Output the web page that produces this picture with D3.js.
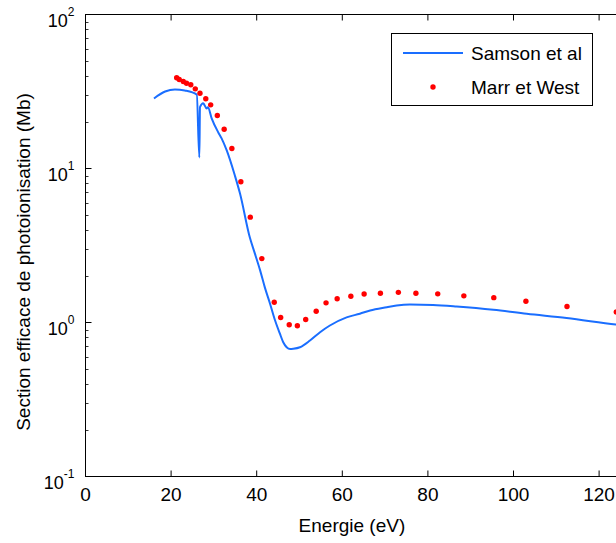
<!DOCTYPE html>
<html><head><meta charset="utf-8">
<script src="https://cdn.jsdelivr.net/npm/d3@7"></script>
<style>body{margin:0;background:#fff;overflow:hidden}svg{display:block;font-family:"Liberation Sans",Arial,sans-serif}</style>
</head><body>
<script>
const samsonE = [16.0,18.6,20.9,23.2,26.0,26.6,26.75,27.5,28.3,28.6,29.5,31.0,31.8,33.0,34.9,36.1,38.4,39.6,40.8,41.9,43.1,44.3,45.4,46.2,47.0,47.8,48.55,50.1,52.45,54.8,57.1,61.0,64.1,66.5,70.4,72.7,75.8,81.2,86.7,95.3,103.1,112.4,123.9,132];
const samsonV = [28.5,31.6,32.6,32.1,30.2,11.8,25.0,26.5,24.5,25.0,21.1,17.2,15.7,13.1,9.0,6.88,3.56,2.79,2.18,1.69,1.33,1.03,0.849,0.745,0.691,0.672,0.675,0.691,0.764,0.865,0.956,1.08,1.14,1.197,1.257,1.29,1.31,1.30,1.27,1.21,1.14,1.07,0.97,0.92];
const marrE = [21.3,21.9,22.85,23.6,24.6,25.65,26.75,28.1,29.25,30.8,32.4,34.2,36.3,38.5,41.2,44.1,45.6,47.6,49.5,51.45,53.9,56.2,58.8,62.0,65.1,68.9,73.1,77.2,82.3,88.4,95.4,102.9,112.5,124.0];
const marrV = [38.8,37.8,36.7,35.8,35.0,32.9,30.8,28.4,25.9,22.1,18.0,13.5,8.20,4.83,2.60,1.354,1.078,0.966,0.952,1.046,1.184,1.342,1.425,1.48,1.53,1.55,1.57,1.55,1.535,1.49,1.45,1.375,1.27,1.17];
const xTicks = [0,20,40,60,80,100,120];
const yDecades = [-1,0,1,2];
const legendLabels = ["Samson et al","Marr et West"];

const W=616,H=543;
const L=85.5, T=14.5, B=476.5, pxPerEV=4.28, xMax=124.5;
const R=L+pxPerEV*xMax;
const svg=d3.select("body").append("svg").attr("width",W).attr("height",H);
const x=d3.scaleLinear().domain([0,xMax]).range([L,R]);
const y=d3.scaleLog().domain([0.1,100]).range([B,T]);
const blue="#1a6eff", red="#ff0000";

const g=svg.append("g");
const minor=[];
for(let d=-1; d<2; d++) for(let k=2;k<=9;k++) minor.push(k*Math.pow(10,d));
g.selectAll(".ymin").data(minor).enter().append("line")
 .attr("x1",L).attr("x2",L+3).attr("y1",d=>Math.round(y(d))+0.5).attr("y2",d=>Math.round(y(d))+0.5)
 .attr("stroke","#000").attr("stroke-width",0.8);
g.selectAll(".ymaj").data(yDecades).enter().append("line")
 .attr("x1",L).attr("x2",L+6).attr("y1",d=>y(Math.pow(10,d))).attr("y2",d=>y(Math.pow(10,d)))
 .attr("stroke","#000").attr("stroke-width",1);
g.selectAll(".xb").data(xTicks).enter().append("line")
 .attr("x1",d=>x(d)).attr("x2",d=>x(d)).attr("y1",B).attr("y2",B-6).attr("stroke","#000");
g.selectAll(".xt").data(xTicks).enter().append("line")
 .attr("x1",d=>x(d)).attr("x2",d=>x(d)).attr("y1",T).attr("y2",T+6).attr("stroke","#000");
g.append("rect").attr("x",L).attr("y",T).attr("width",R-L).attr("height",B-T)
 .attr("fill","none").attr("stroke","#000").attr("stroke-width",1);

g.selectAll(".xl").data(xTicks).enter().append("text")
 .attr("x",d=>x(d)).attr("y",B+24).attr("text-anchor","middle").attr("font-size",19).text(d=>d);
yDecades.forEach(d=>{
  const t=g.append("text").attr("x",L-11).attr("y",y(Math.pow(10,d))+12).attr("text-anchor","end").attr("font-size",18);
  t.append("tspan").text("10");
  t.append("tspan").attr("dy",-11).attr("font-size",12).text(d);
});
svg.append("text").attr("x",(L+R)/2).attr("y",531.5).attr("text-anchor","middle").attr("font-size",19).text("Energie (eV)");
svg.append("text").attr("transform",`translate(30,262) rotate(-90)`).attr("text-anchor","middle").attr("font-size",19)
 .text("Section efficace de photoionisation (Mb)");

svg.append("clipPath").attr("id","c").append("rect").attr("x",L).attr("y",T).attr("width",R-L).attr("height",B-T);
const pg=svg.append("g").attr("clip-path","url(#c)");
const sData=samsonE.map((e,i)=>[e,samsonV[i]]);
pg.append("path").datum(sData).attr("fill","none").attr("stroke",blue).attr("stroke-width",2)
 .attr("d",d3.line().x(d=>x(d[0])).y(d=>y(d[1])).curve(d3.curveMonotoneX));
const mData=marrE.map((e,i)=>[e,marrV[i]]);
pg.selectAll(".m").data(mData).enter().append("circle")
 .attr("cx",d=>x(d[0])).attr("cy",d=>y(d[1])).attr("r",2.7).attr("fill",red);

const lg=svg.append("g");
lg.append("rect").attr("x",391.5).attr("y",33.5).attr("width",201).attr("height",72).attr("fill","#fff").attr("stroke","#000");
lg.append("line").attr("x1",403).attr("x2",463).attr("y1",53).attr("y2",53).attr("stroke",blue).attr("stroke-width",2);
lg.append("circle").attr("cx",433).attr("cy",87).attr("r",2.7).attr("fill",red);
lg.append("text").attr("x",471).attr("y",60).attr("font-size",19).text(legendLabels[0]);
lg.append("text").attr("x",471).attr("y",94).attr("font-size",19).text(legendLabels[1]);
</script>
</body></html>
